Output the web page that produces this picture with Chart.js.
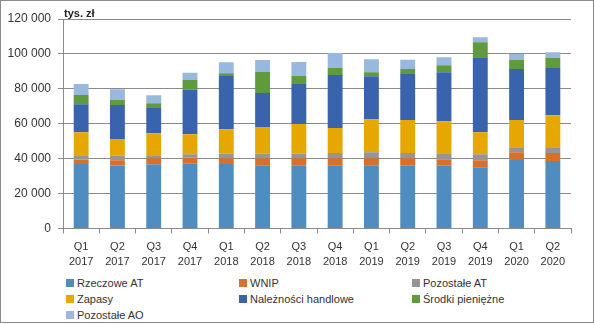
<!DOCTYPE html>
<html lang="pl">
<head>
<meta charset="utf-8">
<title>Struktura aktywów</title>
<script src="https://cdn.jsdelivr.net/npm/chart.js@4"></script>
<style>
    html, body { margin: 0; padding: 0; background: #fff; }
    #wrap {
        position: relative;
        width: 594px;
        height: 323px;
        box-sizing: border-box;
        border: 1px solid #8a8a8a;
        font-family: "Liberation Sans", Arial, sans-serif;
        color: #333;
    }
    #assetsChart { position: absolute; left: -1px; top: -1px; }
    #unit {
        position: absolute;
        left: 63px;
        top: 6px;
        font-size: 11px;
        font-weight: bold;
        color: #222;
    }
    #legend {
        position: absolute;
        left: 65px;
        top: 274px;
        display: grid;
        grid-template-columns: 173px 173px 173px;
        grid-auto-rows: 16px;
        font-size: 11px;
    }
    #legend .item { display: flex; align-items: center; white-space: nowrap; }
    #legend .box { width: 8px; height: 8px; margin-right: 3px; }
</style>
</head>
<body>
<div id="wrap">
    <canvas id="assetsChart" width="595" height="272"></canvas>
    <div id="unit">tys. zł</div>
    <div id="legend"></div>
</div>

<script>
// Quarterly asset structure, thousands of PLN
const quarters = ['Q1', 'Q2', 'Q3', 'Q4', 'Q1', 'Q2', 'Q3', 'Q4', 'Q1', 'Q2', 'Q3', 'Q4', 'Q1', 'Q2'];
const years = ['2017', '2017', '2017', '2017', '2018', '2018', '2018', '2018', '2019', '2019', '2019', '2019', '2020', '2020'];

const rzeczoweAT = [37000, 36100, 36850, 37400, 37000, 36300, 36300, 36300, 36300, 35900, 35900, 35100, 39300, 38600];
const wnip = [2500, 3000, 3400, 3250, 3250, 4000, 4000, 4000, 4000, 4400, 3800, 4000, 4400, 4600];
const pozostaleAT = [2500, 2500, 1700, 1900, 2500, 2500, 2500, 2900, 3400, 2900, 3400, 3400, 2900, 3400];
const zapasy = [13200, 9600, 12600, 11500, 14100, 15300, 17000, 14300, 18900, 18900, 18300, 12600, 15500, 18300];
const naleznosci = [16000, 19500, 14900, 25600, 30900, 19500, 22900, 30400, 24600, 26400, 28100, 43000, 29200, 27500];
const srodki = [5200, 2900, 2300, 5400, 1200, 12000, 4600, 4000, 2300, 2900, 4000, 8600, 5200, 5200];
const pozostaleAO = [6300, 6100, 4600, 4200, 6300, 6900, 8000, 8600, 7400, 5200, 4600, 2900, 3400, 3400];

const yTicks = [0, 20000, 40000, 60000, 80000, 100000, 120000];

const gridColor = '#8a8a8a';
const textColor = '#333';

const labels = quarters.map((q, i) => [q, years[i]]);

function series(label, data, color) {
    return {
        label: label,
        data: data,
        backgroundColor: color,
        borderWidth: 0,
        categoryPercentage: 1,
        barPercentage: 0.41
    };
}

const datasets = [
    series('Rzeczowe AT', rzeczoweAT, '#4f8cc0'),
    series('WNIP', wnip, '#d8702a'),
    series('Pozostałe AT', pozostaleAT, '#959595'),
    series('Zapasy', zapasy, '#e6a800'),
    series('Należności handlowe', naleznosci, '#3a63ae'),
    series('Środki pieniężne', srodki, '#5f9a3d'),
    series('Pozostałe AO', pozostaleAO, '#99b8e0')
];

// thousands separated by a space: 120 000
function formatValue(v) {
    return String(v).replace(/\B(?=(\d{3})+(?!\d))/g, ' ');
}

const chart = new Chart(document.getElementById('assetsChart'), {
    type: 'bar',
    data: { labels: labels, datasets: datasets },
    options: {
        responsive: false,
        animation: false,
        layout: { padding: { left: 0, right: 24, top: 19, bottom: 0 } },
        plugins: {
            legend: { display: false },
            tooltip: { enabled: false }
        },
        scales: {
            x: {
                stacked: true,
                grid: {
                    color: gridColor,
                    drawOnChartArea: false,
                    tickLength: 5,
                    offset: true
                },
                border: { color: gridColor, width: 1 },
                ticks: {
                    color: textColor,
                    padding: 6,
                    maxRotation: 0,
                    autoSkip: false,
                    font: { family: '"Liberation Sans", Arial, sans-serif', size: 11, lineHeight: '15px' }
                },
                afterFit: function(scale) { scale.height = 43.5; }
            },
            y: {
                stacked: true,
                min: 0,
                max: 120000,
                afterBuildTicks: function(scale) {
                    scale.ticks = yTicks.map(v => ({ value: v }));
                },
                grid: {
                    color: gridColor,
                    tickLength: 5
                },
                border: { color: gridColor, width: 1 },
                ticks: {
                    color: textColor,
                    padding: 7,
                    font: { family: '"Liberation Sans", Arial, sans-serif', size: 12 },
                    callback: function(value) { return formatValue(value); }
                },
                afterFit: function(scale) { scale.width = 63; }
            }
        }
    }
});

// legend laid out in three fixed columns under the axis
const legendEl = document.getElementById('legend');
chart.data.datasets.forEach(function(ds) {
    const item = document.createElement('div');
    item.className = 'item';
    const box = document.createElement('span');
    box.className = 'box';
    box.style.background = ds.backgroundColor;
    const text = document.createElement('span');
    text.textContent = ds.label;
    item.appendChild(box);
    item.appendChild(text);
    legendEl.appendChild(item);
});
</script>
</body>
</html>
